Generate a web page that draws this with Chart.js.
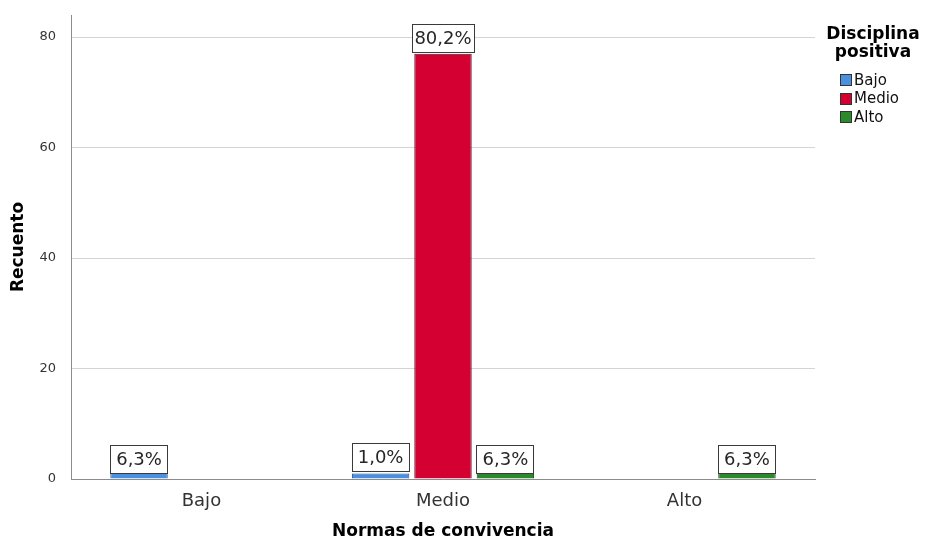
<!DOCTYPE html>
<html>
<head>
<meta charset="utf-8">
<script src="https://cdn.jsdelivr.net/npm/chart.js@4/dist/chart.umd.min.js"></script>
<style>
  body { margin: 0; background: #fff; }
  #wrap { width: 928px; height: 542px; }
</style>
</head>
<body>
<div id="wrap"><canvas id="normasChart" width="928" height="542"></canvas></div>
<script>
// Data (counts)
const categories = ['Bajo', 'Medio', 'Alto'];
const seriesNames = ['Bajo', 'Medio', 'Alto'];
const bajoCounts = [6, 1, null];
const medioCounts = [null, 77, null];
const altoCounts = [null, 6, 6];
const yTicks = [0, 20, 40, 60, 80];
const legendTitle = ['Disciplina', 'positiva'];

const fillColors = ['#4a8fe0', '#d50032', '#2b8a2b'];
const edgeColors = ['#24508a', '#4a1020', '#123f12'];
const FONT = '"DejaVu Sans", sans-serif';

const allCounts = [bajoCounts, medioCounts, altoCounts];
const total = allCounts.flat().reduce((s, v) => s + (v || 0), 0);

// White boxes with percentage of total
const barLabels = {
    id: 'barLabels',
    afterDatasetsDraw(chart) {
        const ctx = chart.ctx;
        ctx.save();
        ctx.font = '18px ' + FONT;
        ctx.textAlign = 'center';
        ctx.textBaseline = 'middle';
        chart.data.datasets.forEach((ds, i) => {
            chart.getDatasetMeta(i).data.forEach((bar, j) => {
                const v = ds.data[j];
                if (!v) return;
                const {x, y, base, width} = bar.getProps(['x', 'y', 'base', 'width'], true);
                const text = (v / total * 100).toFixed(1).replace('.', ',') + '%';
                const tw = ctx.measureText(text).width;
                const w = Math.round(Math.max(width + 1, tw + 6));
                const h = 29;
                const barH = base - y;
                const top = Math.round((barH >= h && barH < 2 * h) ? y - 1 : y - h - 1);
                const left = Math.round(x - w / 2);
                ctx.fillStyle = '#ffffff';
                ctx.fillRect(left, top, w, h);
                ctx.strokeStyle = '#3a3a3a';
                ctx.lineWidth = 1;
                ctx.strokeRect(left + 0.5, top + 0.5, w - 1, h - 1);
                ctx.fillStyle = '#262626';
                ctx.fillText(text, x, top + h / 2 + 1);
            });
        });
        ctx.restore();
    }
};

// Legend on the right, SPSS style
const sideLegend = {
    id: 'sideLegend',
    afterDraw(chart) {
        const ctx = chart.ctx;
        ctx.save();
        ctx.font = 'bold 17px ' + FONT;
        ctx.fillStyle = '#000';
        ctx.textAlign = 'center';
        ctx.textBaseline = 'middle';
        legendTitle.forEach((line, k) => ctx.fillText(line, 873, 35 + k * 18));
        ctx.font = '15px ' + FONT;
        ctx.textAlign = 'left';
        chart.data.datasets.forEach((ds, i) => {
            const cy = 80 + i * 18.5;
            ctx.fillStyle = ds.backgroundColor;
            ctx.fillRect(840, Math.round(cy - 6), 12, 12);
            ctx.strokeStyle = '#333';
            ctx.lineWidth = 1;
            ctx.strokeRect(840.5, Math.round(cy - 6) + 0.5, 11, 11);
            ctx.fillStyle = '#111';
            ctx.fillText(ds.label, 854, cy + 1);
        });
        ctx.restore();
    }
};

const ctx = document.getElementById('normasChart').getContext('2d');
new Chart(ctx, {
    type: 'bar',
    data: {
        // numeric positions so the x axis can have SPSS-like end margins
        labels: categories.map((c, i) => i),
        datasets: seriesNames.map((name, i) => ({
            label: name,
            data: allCounts[i],
            backgroundColor: fillColors[i],
            borderColor: edgeColors[i],
            borderWidth: 1,
            categoryPercentage: 0.775,
            barPercentage: 0.92,
        }))
    },
    options: {
        responsive: false,
        animation: false,
        layout: { padding: { top: 15, right: 113, left: 0, bottom: 0 } },
        plugins: {
            legend: { display: false },
            tooltip: { enabled: false }
        },
        scales: {
            x: {
                type: 'linear',
                offset: false,
                min: -0.54,
                max: 2.54,
                afterBuildTicks: (scale) => {
                    scale.ticks = categories.map((c, i) => ({ value: i }));
                },
                grid: { display: false },
                border: { display: true, color: '#8c8c8c', width: 1 },
                ticks: {
                    color: '#333',
                    font: { family: FONT, size: 18 },
                    padding: 4,
                    callback: (v) => categories[v]
                },
                title: {
                    display: true,
                    text: 'Normas de convivencia',
                    color: '#000',
                    font: { family: FONT, size: 17, weight: 'bold' },
                    padding: { top: 0, bottom: 0 }
                },
                afterFit: (scale) => {
                    scale.height = 63;
                    scale.paddingLeft = 0;
                    scale.paddingRight = 0;
                }
            },
            y: {
                min: 0,
                max: 84,
                afterBuildTicks: (scale) => {
                    scale.ticks = yTicks.map(v => ({ value: v }));
                },
                grid: { color: '#d4d4d4', drawTicks: false },
                border: { display: true, color: '#8c8c8c', width: 1 },
                ticks: { color: '#333', font: { family: FONT, size: 13 }, padding: 15 },
                title: {
                    display: true,
                    text: 'Recuento',
                    color: '#000',
                    font: { family: FONT, size: 17, weight: 'bold' },
                    padding: { top: 8, bottom: 0 }
                },
                afterFit: (scale) => {
                    scale.width = 71;
                    scale.paddingTop = 0;
                    scale.paddingBottom = 0;
                }
            }
        }
    },
    plugins: [barLabels, sideLegend]
});
</script>
</body>
</html>
